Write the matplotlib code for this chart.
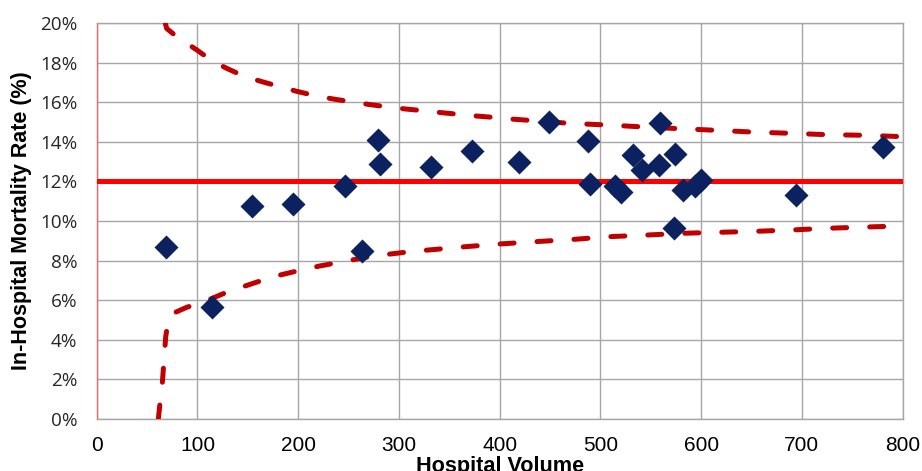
import matplotlib
matplotlib.use("Agg")
import matplotlib.pyplot as plt
from matplotlib.ticker import FuncFormatter

# Hospital data points (volume, mortality %)
volume = [68.8, 114.1, 153.8, 195.1, 246.8, 263.3, 279.2, 281.2, 331.8, 372.3,
          419.6, 448.8, 487.3, 489.3, 514.6, 520.0, 532.8, 541.1, 558.5, 559.0,
          574.2, 573.0, 582.3, 593.8, 599.4, 694.1, 780.2]
mortality = [8.70, 5.67, 10.77, 10.84, 11.77, 8.48, 14.07, 12.88, 12.73, 13.55,
             12.97, 14.98, 14.04, 11.88, 11.78, 11.45, 13.32, 12.56, 12.83, 14.97,
             13.37, 9.65, 11.57, 11.75, 12.05, 11.31, 13.75]

# Overall mean
mean_rate = 12.0

# Upper control limit
upper_x = [68.0, 69.5, 76.0, 84.4, 99.3, 114.1, 129.0, 147.2, 163.8, 182.0, 198.5,
           216.7, 234.8, 251.4, 269.6, 287.8, 306.0, 324.2, 342.4, 360.6, 377.2,
           397.0, 413.5, 433.4, 469.8, 506.2, 542.5, 578.9, 615.3, 651.7, 688.1,
           724.5, 760.9, 799.0]
upper_y = [20.0, 19.72, 19.45, 19.14, 18.64, 18.10, 17.71, 17.29, 17.04, 16.78, 16.55,
           16.33, 16.16, 16.03, 15.89, 15.77, 15.66, 15.57, 15.47, 15.38, 15.30,
           15.22, 15.14, 15.07, 14.93, 14.85, 14.75, 14.66, 14.58, 14.49, 14.43,
           14.36, 14.33, 14.26]

# Lower control limit
lower_x = [61.2, 62.8, 65.1, 66.8, 68.5, 71.1, 76.0, 89.3, 109.2, 129.0, 152.2,
           175.3, 198.5, 221.6, 244.8, 267.9, 291.1, 314.2, 337.4, 360.6, 400.3,
           436.7, 473.1, 509.5, 545.9, 582.3, 618.7, 655.0, 691.4, 724.5, 760.0,
           799.0]
lower_y = [0.0, 0.79, 1.80, 2.98, 4.16, 5.00, 5.34, 5.64, 5.98, 6.40, 6.80,
           7.19, 7.47, 7.73, 7.95, 8.17, 8.33, 8.47, 8.57, 8.68, 8.84,
           8.96, 9.07, 9.21, 9.29, 9.38, 9.43, 9.48, 9.55, 9.63, 9.69,
           9.75]

x_ticks = [0, 100, 200, 300, 400, 500, 600, 700, 800]
y_ticks = [0, 2, 4, 6, 8, 10, 12, 14, 16, 18, 20]

fig = plt.figure(figsize=(9.22, 4.71), dpi=100)
ax = fig.add_axes([0.1049, 0.1104, 0.979 - 0.1049, 0.9512 - 0.1104])

ax.set_xlim(0, 800)
ax.set_ylim(0, 20)
ax.set_xticks(x_ticks)
ax.set_yticks(y_ticks)
ax.yaxis.set_major_formatter(FuncFormatter(lambda v, p: f"{int(round(v))}%"))
ax.grid(True, color="#A6A6A6", linewidth=1.0)
ax.set_axisbelow(True)

for s in ["top", "right", "bottom"]:
    ax.spines[s].set_color("#A6A6A6")
    ax.spines[s].set_linewidth(1.0)
ax.spines["left"].set_color("#E86A6A")
ax.spines["left"].set_linewidth(1.0)
ax.tick_params(axis="x", length=0, pad=12)
ax.tick_params(axis="y", length=0, pad=14)

for lab in ax.get_xticklabels():
    lab.set_fontfamily("Liberation Sans")
    lab.set_fontsize(15)
for lab in ax.get_yticklabels():
    lab.set_fontfamily("Open Sans")
    lab.set_fontsize(13.6)
    lab.set_color("#262626")

ax.axhline(mean_rate, color="#FF0000", linewidth=3.6, zorder=3)
ax.plot(upper_x, upper_y, color="#C00000", linewidth=3.6, dashes=(2.8, 4.6),
        dash_capstyle="round", zorder=3, clip_on=True)
ax.plot(lower_x, lower_y, color="#C00000", linewidth=3.6, dashes=(2.8, 4.6),
        dash_capstyle="round", zorder=3, clip_on=True)
ax.scatter(volume, mortality, marker="D", s=150, color="#0B2160", zorder=4,
           linewidths=0)

ax.set_xlabel("Hospital Volume", fontfamily="Liberation Sans", fontweight="bold",
              fontsize=15.6)
ax.xaxis.label.set_verticalalignment("baseline")
ax.xaxis.set_label_coords(0.5, -0.1326)

ax.set_ylabel("In-Hospital Mortality Rate (%)", fontfamily="Liberation Sans",
              fontweight="bold", fontsize=15.5)
ax.yaxis.label.set_rotation_mode("default")
ax.yaxis.label.set_verticalalignment("center")
ax.yaxis.label.set_horizontalalignment("center")
ax.yaxis.set_label_coords((21 - 96.7) / 805.9, 0.5)

fig.savefig("out.png", dpi=100)
